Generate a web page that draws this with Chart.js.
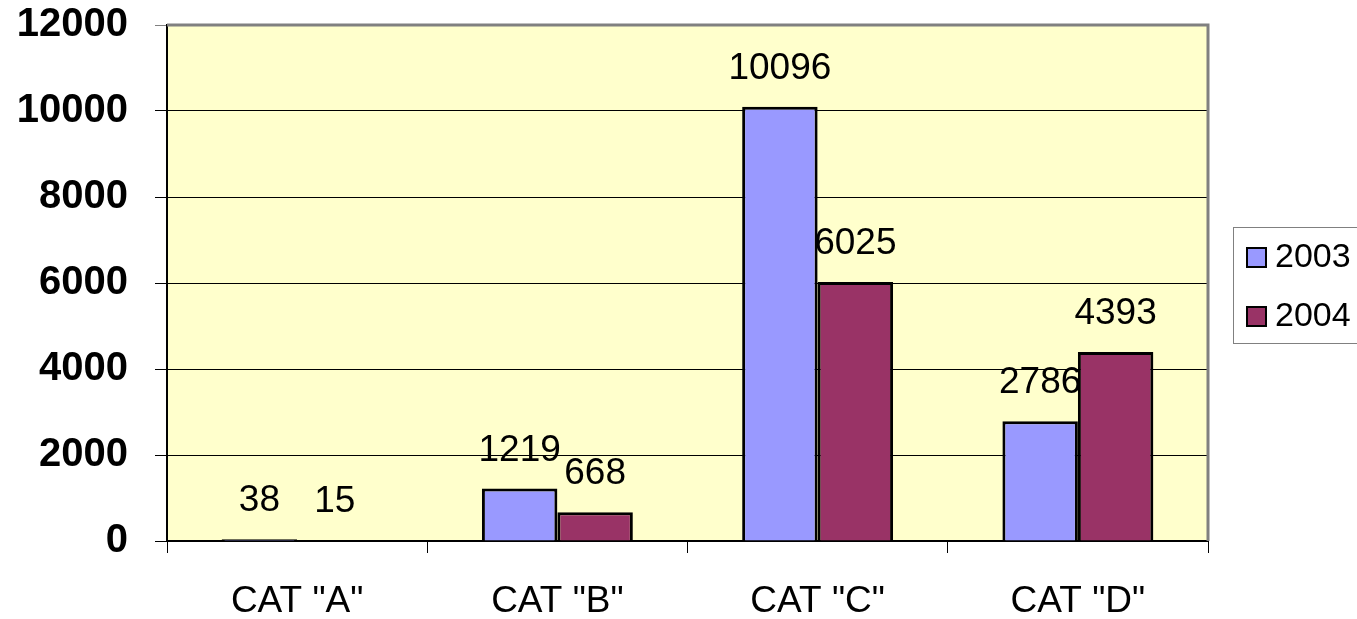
<html lang="en">
<head>
    <meta charset="UTF-8">
    <title>CAT chart</title>
    <style>
        body { margin: 0; background: #fff; }
    </style>
</head>
<body>
    <canvas id="bar-chart" width="1357" height="619"></canvas>
    <script src="https://cdn.jsdelivr.net/npm/chart.js"></script>
    <script>
        // data
        const categories = ['CAT "A"', 'CAT "B"', 'CAT "C"', 'CAT "D"'];
        const values2003 = [38, 1219, 10096, 2786];
        const values2004 = [15, 668, 6025, 4393];
        const seriesNames = ['2003', '2004'];
        const yTicks = [0, 2000, 4000, 6000, 8000, 10000, 12000];

        // yellow plot area plus grey frame on top/right
        const plotFrame = {
            id: 'plotFrame',
            beforeDraw(chart) {
                const a = chart.chartArea;
                const ctx = chart.ctx;
                ctx.save();
                ctx.fillStyle = '#FFFFCC';
                ctx.fillRect(a.left, a.top, a.right - a.left, a.bottom - a.top);
                ctx.restore();
            },
            afterDatasetsDraw(chart) {
                const a = chart.chartArea;
                const ctx = chart.ctx;
                ctx.save();
                ctx.strokeStyle = '#808080';
                ctx.lineWidth = 3;
                ctx.beginPath();
                ctx.moveTo(a.left, a.top);
                ctx.lineTo(a.right, a.top);
                ctx.lineTo(a.right, a.bottom);
                ctx.stroke();
                ctx.restore();
            }
        };

        // value labels above each bar
        const barValues = {
            id: 'barValues',
            afterDatasetsDraw(chart) {
                const ctx = chart.ctx;
                ctx.save();
                ctx.font = '37px Arial, "Liberation Sans"';
                ctx.fillStyle = '#000';
                ctx.textAlign = 'center';
                ctx.textBaseline = 'alphabetic';
                chart.data.datasets.forEach((ds, i) => {
                    chart.getDatasetMeta(i).data.forEach((bar, j) => {
                        ctx.fillText(String(ds.data[j]), bar.x, bar.y - 28);
                    });
                });
                ctx.restore();
            }
        };

        // boxed legend on the right
        const boxLegend = {
            id: 'boxLegend',
            afterDraw(chart) {
                const ctx = chart.ctx;
                ctx.save();
                ctx.strokeStyle = '#808080';
                ctx.lineWidth = 1;
                ctx.strokeRect(1233.5, 227.5, 130, 116);
                ctx.font = '34px Arial, "Liberation Sans"';
                ctx.textBaseline = 'middle';
                ctx.textAlign = 'left';
                chart.data.datasets.forEach((ds, i) => {
                    const cy = 257 + i * 59;
                    ctx.fillStyle = ds.backgroundColor;
                    ctx.fillRect(1247, cy - 9, 19, 19);
                    ctx.strokeStyle = '#000';
                    ctx.lineWidth = 2;
                    ctx.strokeRect(1247, cy - 9, 19, 19);
                    ctx.fillStyle = '#000';
                    ctx.fillText(ds.label, 1275, cy + 1);
                });
                ctx.restore();
            }
        };

        const ctx = document.getElementById('bar-chart').getContext('2d');
        new Chart(ctx, {
            type: 'bar',
            data: {
                labels: categories,
                datasets: [{
                    label: seriesNames[0],
                    data: values2003,
                    backgroundColor: '#9999FF',
                    borderColor: '#000',
                    borderWidth: 3,
                }, {
                    label: seriesNames[1],
                    data: values2004,
                    backgroundColor: '#993366',
                    borderColor: '#000',
                    borderWidth: 3,
                }],
            },
            options: {
                responsive: false,
                animation: false,
                events: [],
                layout: { padding: { left: 0, top: 25, right: 149, bottom: 0 } },
                datasets: {
                    bar: { categoryPercentage: 0.58, barPercentage: 1 }
                },
                plugins: {
                    legend: { display: false },
                    tooltip: { enabled: false },
                },
                scales: {
                    x: {
                        afterFit(scale) {
                            scale.height = 78;
                            scale.paddingLeft = 0;
                            scale.paddingRight = 0;
                        },
                        grid: {
                            offset: true,
                            drawOnChartArea: false,
                            drawTicks: true,
                            tickLength: 12,
                            tickColor: '#000',
                            tickWidth: 1,
                        },
                        border: { color: '#000', width: 2 },
                        ticks: {
                            color: '#000',
                            font: { family: 'Arial, "Liberation Sans"', size: 37 },
                            padding: 27,
                            maxRotation: 0,
                        },
                    },
                    y: {
                        min: 0,
                        max: 12000,
                        afterFit(scale) {
                            scale.width = 167;
                            scale.paddingTop = 0;
                            scale.paddingBottom = 0;
                        },
                        afterBuildTicks(scale) { scale.ticks = yTicks.map(v => ({ value: v })); },
                        grid: {
                            color: c => c.tick && c.tick.value === 12000 ? '#808080' : '#000',
                            tickColor: c => c.tick && c.tick.value === 12000 ? '#808080' : '#000',
                            lineWidth: 1,
                            tickLength: 12,
                        },
                        border: { color: '#000', width: 2 },
                        ticks: {
                            color: '#000',
                            font: { family: 'Arial, "Liberation Sans"', size: 40, weight: 'bold' },
                            padding: 27,
                            callback: v => String(v),
                        },
                    },
                },
            },
            plugins: [plotFrame, barValues, boxLegend],
        });
    </script>
</body>
</html>
